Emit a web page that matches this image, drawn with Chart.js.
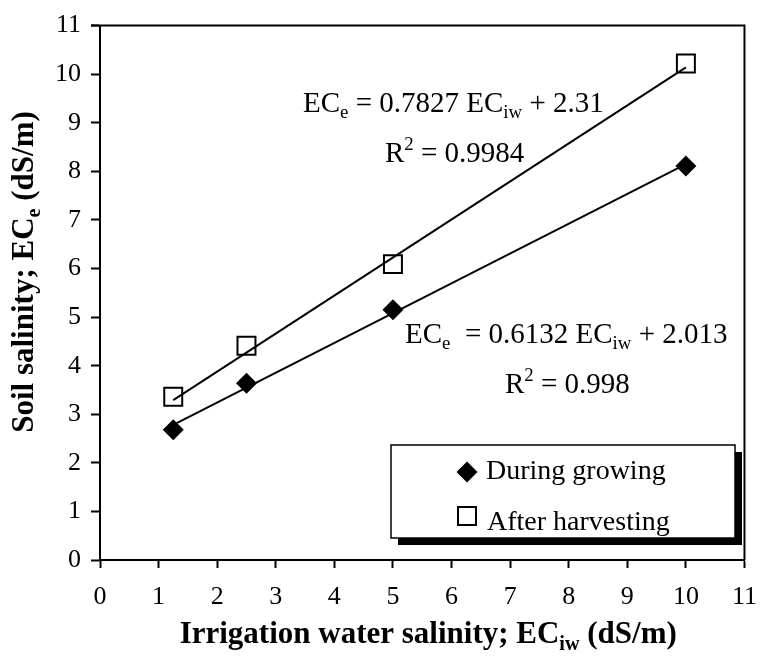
<!DOCTYPE html>
<html>
<head>
<meta charset="utf-8">
<script src="https://cdn.jsdelivr.net/npm/chart.js@4/dist/chart.umd.min.js"></script>
<style>
  body { margin: 0; background: #fff; }
  #wrap { width: 771px; height: 656px; }
</style>
</head>
<body>
<div id="wrap"><canvas id="salinityChart" width="771" height="656"></canvas></div>
<script>
const waterSalinity = [1.25, 2.5, 5, 10];
const duringGrowing = [2.68, 3.64, 5.15, 8.11];
const afterHarvesting = [3.36, 4.41, 6.09, 10.22];

// Trend line end points (first and last x)
const trendX = [1.25, 10];
const growingTrend = [2.78, 8.15];
const harvestTrend = [3.29, 10.14];

const axisTicks = [0, 1, 2, 3, 4, 5, 6, 7, 8, 9, 10, 11];

const seriesNames = ['During growing', 'After harvesting'];

const SERIF = '"Liberation Serif", "Times New Roman", serif';

function toPoints(xs, ys) {
    return xs.map((x, i) => ({ x: x, y: ys[i] }));
}

// draw text made of pieces, some of them sub/superscript
function richWidth(ctx, parts, size, bold) {
    let w = 0;
    parts.forEach(p => {
        const s = (p.sub || p.sup) ? size * 0.65 : size;
        ctx.font = (bold ? 'bold ' : '') + s + 'px ' + SERIF;
        w += ctx.measureText(p.t).width;
    });
    return w;
}

function drawRich(ctx, parts, x, y, size, bold) {
    ctx.textBaseline = 'alphabetic';
    ctx.textAlign = 'left';
    parts.forEach(p => {
        const s = (p.sub || p.sup) ? size * 0.65 : size;
        ctx.font = (bold ? 'bold ' : '') + s + 'px ' + SERIF;
        let dy = 0;
        if (p.sub) dy = size * 0.22;
        if (p.sup) dy = -size * 0.4;
        ctx.fillText(p.t, x, y + dy);
        x += ctx.measureText(p.t).width;
    });
}

function drawDiamond(ctx, x, y, r) {
    ctx.beginPath();
    ctx.moveTo(x - r, y);
    ctx.lineTo(x, y - r);
    ctx.lineTo(x + r, y);
    ctx.lineTo(x, y + r);
    ctx.closePath();
    ctx.fill();
}

function drawSquare(ctx, x, y, half) {
    ctx.fillStyle = '#fff';
    ctx.fillRect(x - half, y - half, half * 2, half * 2);
    ctx.lineWidth = 2;
    ctx.strokeRect(x - half, y - half, half * 2, half * 2);
}

const decorPlugin = {
    id: 'decor',
    afterDraw(chart) {
        const ctx = chart.ctx;
        const area = chart.chartArea;
        ctx.save();
        ctx.fillStyle = '#000';
        ctx.strokeStyle = '#000';

        // top and right frame of plot area
        ctx.lineWidth = 2;
        ctx.beginPath();
        ctx.moveTo(area.left - 9, area.top);
        ctx.lineTo(area.right, area.top);
        ctx.lineTo(area.right, area.bottom);
        ctx.stroke();

        // regression equations
        drawRich(ctx, [
            { t: 'EC' }, { t: 'e', sub: true }, { t: ' = 0.7827 EC' }, { t: 'iw', sub: true }, { t: ' + 2.31' }
        ], 303, 112, 29, false);
        drawRich(ctx, [
            { t: 'R' }, { t: '2', sup: true }, { t: ' = 0.9984' }
        ], 385, 162, 29, false);
        drawRich(ctx, [
            { t: 'EC' }, { t: 'e', sub: true }, { t: '  = 0.6132 EC' }, { t: 'iw', sub: true }, { t: ' + 2.013' }
        ], 405, 343, 29, false);
        drawRich(ctx, [
            { t: 'R' }, { t: '2', sup: true }, { t: ' = 0.998' }
        ], 505, 393, 29, false);

        // legend box with shadow
        const lx = 391, ly = 445, lw = 344, lh = 93;
        ctx.fillStyle = '#000';
        ctx.fillRect(lx + 7, ly + 7, lw, lh);
        ctx.fillStyle = '#fff';
        ctx.fillRect(lx, ly, lw, lh);
        ctx.lineWidth = 1.5;
        ctx.strokeRect(lx, ly, lw, lh);

        ctx.fillStyle = '#000';
        drawDiamond(ctx, 467, 472, 10.5);
        drawSquare(ctx, 467, 516, 9);
        ctx.fillStyle = '#000';
        ctx.font = '28px ' + SERIF;
        ctx.textBaseline = 'alphabetic';
        ctx.textAlign = 'left';
        ctx.fillText(seriesNames[0], 486, 479);
        ctx.fillText(seriesNames[1], 487, 530);

        // axis titles
        const xTitle = [
            { t: 'Irrigation water salinity; EC' }, { t: 'iw', sub: true }, { t: ' (dS/m)' }
        ];
        const xw = richWidth(ctx, xTitle, 31, true);
        drawRich(ctx, xTitle, (area.left + area.right) / 2 + 6 - xw / 2, 643, 31, true);

        const yTitle = [
            { t: 'Soil salinity; EC' }, { t: 'e', sub: true }, { t: ' (dS/m)' }
        ];
        const yw = richWidth(ctx, yTitle, 31, true);
        ctx.translate(33, 272);
        ctx.rotate(-Math.PI / 2);
        drawRich(ctx, yTitle, -yw / 2, 0, 31, true);

        ctx.restore();
    }
};

const ctx = document.getElementById('salinityChart').getContext('2d');
new Chart(ctx, {
    type: 'scatter',
    data: {
        datasets: [{
            label: 'growing trend',
            type: 'line',
            data: toPoints(trendX, growingTrend),
            borderColor: '#000',
            borderWidth: 2,
            pointRadius: 0,
            fill: false
        }, {
            label: 'harvest trend',
            type: 'line',
            data: toPoints(trendX, harvestTrend),
            borderColor: '#000',
            borderWidth: 2,
            pointRadius: 0,
            fill: false
        }, {
            label: seriesNames[0],
            data: toPoints(waterSalinity, duringGrowing),
            pointStyle: 'rectRot',
            pointRadius: 10.5,
            backgroundColor: '#000',
            borderColor: '#000',
            borderWidth: 0,
            showLine: false
        }, {
            label: seriesNames[1],
            data: toPoints(waterSalinity, afterHarvesting),
            pointStyle: 'rect',
            pointRadius: 12.7,
            backgroundColor: '#fff',
            borderColor: '#000',
            borderWidth: 2,
            showLine: false
        }]
    },
    options: {
        responsive: false,
        animation: false,
        layout: { padding: { top: 21, right: 11, left: 0, bottom: 0 } },
        plugins: {
            legend: { display: false },
            tooltip: { enabled: false }
        },
        scales: {
            x: {
                type: 'linear',
                min: axisTicks[0],
                max: axisTicks[axisTicks.length - 1],
                afterBuildTicks: (scale) => { scale.ticks = axisTicks.map(v => ({ value: v })); },
                afterFit: (scale) => { scale.height = 96; },
                border: { display: true, color: '#000', width: 2 },
                grid: { drawOnChartArea: false, drawTicks: true, tickLength: 8, tickColor: '#000', tickWidth: 2 },
                ticks: {
                    color: '#000',
                    padding: 14,
                    maxRotation: 0,
                    font: { family: SERIF, size: 26 }
                }
            },
            y: {
                type: 'linear',
                min: axisTicks[0],
                max: axisTicks[axisTicks.length - 1],
                afterBuildTicks: (scale) => { scale.ticks = axisTicks.map(v => ({ value: v })); },
                afterFit: (scale) => { scale.width = 100; },
                border: { display: true, color: '#000', width: 2 },
                grid: { drawOnChartArea: false, drawTicks: true, tickLength: 9, tickColor: '#000', tickWidth: 2 },
                ticks: {
                    color: '#000',
                    padding: 10,
                    font: { family: SERIF, size: 26 }
                }
            }
        }
    },
    plugins: [decorPlugin]
});
</script>
</body>
</html>
